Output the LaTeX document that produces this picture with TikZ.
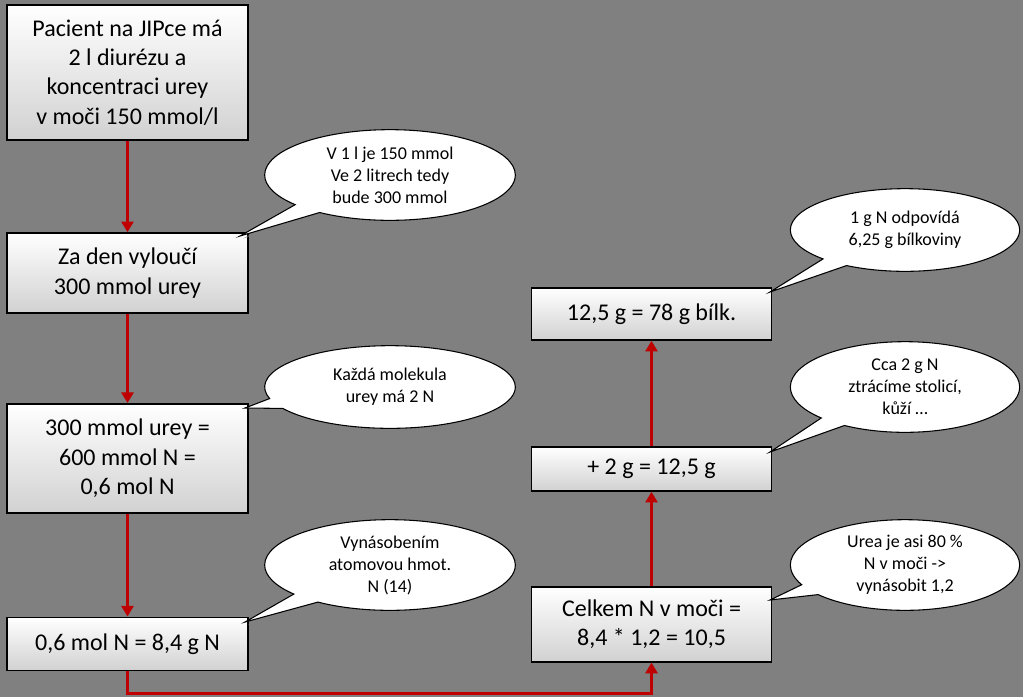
\documentclass[tikz,border=0pt]{standalone}
\usepackage{fontspec}
\setmainfont{Carlito}
\usetikzlibrary{shapes.callouts,arrows.meta,shadows}
\begin{document}
\begin{tikzpicture}[x=0.75pt,y=-0.75pt,
  box/.style={draw=black,line width=1.2pt,top color=white,bottom color=black!18,
    font=\fontsize{18}{22}\selectfont,align=center,inner sep=0pt,
    drop shadow={shadow xshift=2pt,shadow yshift=-2pt,opacity=0.6}},
  bub/.style={ellipse callout,draw=black,fill=white,line width=0.8pt,
    font=\fontsize{13.5}{16.5}\selectfont,align=center,inner sep=1pt,
    drop shadow={shadow xshift=2pt,shadow yshift=-2pt,opacity=0.5}},
  arr/.style={draw=red!75!black,line width=2.2pt,-{Triangle[length=8pt,width=9pt]}}]
\fill[black!50] (0,0) rectangle (1023,697);
\node[box,minimum width=181pt,minimum height=101pt] (b1) at (127.5,72.5) {Pacient na JIPce má\\2 l diurézu a\\koncentraci urey\\v moči 150 mmol/l};
\node[box,minimum width=181pt,minimum height=60pt] (b2) at (127.5,273) {Za den vyloučí\\300 mmol urey};
\node[box,minimum width=181pt,minimum height=82pt] (b3) at (127.5,458.5) {300 mmol urey =\\600 mmol N =\\0,6 mol N};
\node[box,minimum width=181pt,minimum height=40pt] (b4) at (127.5,644) {0,6 mol N = 8,4 g N};
\node[box,minimum width=180pt,minimum height=39pt] (b5) at (651.5,314) {12,5 g = 78 g bílk.};
\node[box,minimum width=180pt,minimum height=33pt] (b6) at (651.5,469) {+ 2 g = 12,5 g};
\node[box,minimum width=180pt,minimum height=56pt] (b7) at (651.5,624.5) {Celkem N v moči =\\8,4 * 1,2 = 10,5};
\node[bub,minimum width=188pt,minimum height=68pt,callout absolute pointer={(240,236)}] (c1) at (390,175) {V 1 l je 150 mmol\\Ve 2 litrech tedy\\bude 300 mmol};
\node[bub,minimum width=188pt,minimum height=62pt,callout absolute pointer={(245,408)}] (c2) at (390,387) {Každá molekula\\urey má 2 N};
\node[bub,minimum width=188pt,minimum height=68pt,callout absolute pointer={(245,622)}] (c3) at (390,565) {Vynásobením\\atomovou hmot.\\N (14)};
\node[bub,minimum width=172pt,minimum height=62pt,callout absolute pointer={(770,292)}] (c4) at (905,230) {1 g N odpovídá\\6,25 g bílkoviny};
\node[bub,minimum width=172pt,minimum height=68pt,callout absolute pointer={(770,452)}] (c5) at (905,387) {Cca 2 g N\\ztrácíme stolicí,\\kůží …};
\node[bub,minimum width=172pt,minimum height=68pt,callout absolute pointer={(770,600)}] (c6) at (905,565) {Urea je asi 80 \%\\N v moči ->\\vynásobit  1,2};
\draw[arr] (b1) -- (b2);
\draw[arr] (b2) -- (b3);
\draw[arr] (b3) -- (b4);
\draw[arr] (b4.south) -- ++(0,22) -| (b7.south);
\draw[arr] (b7.north) -- (b6.south);
\draw[arr] (b6.north) -- (b5.south);
\end{tikzpicture}
\end{document}
